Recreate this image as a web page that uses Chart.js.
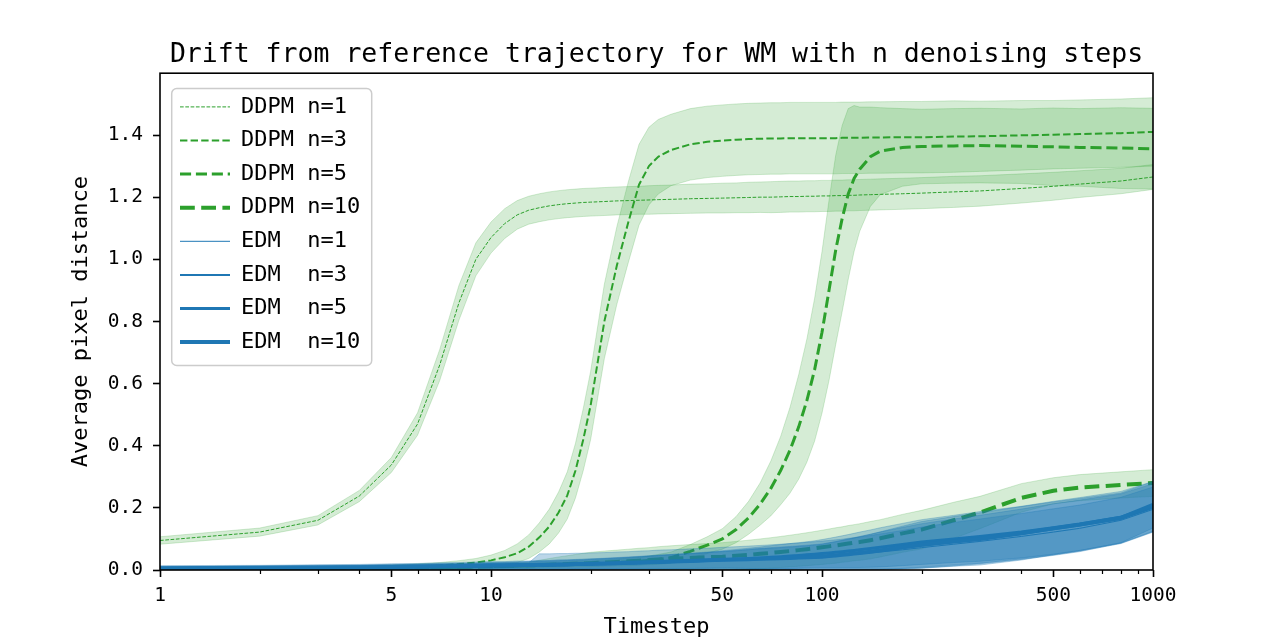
<!DOCTYPE html>
<html>
<head>
<meta charset="utf-8">
<script src="https://cdn.jsdelivr.net/npm/chart.js@4.4.1/dist/chart.umd.min.js"></script>
<style>
  html, body { margin: 0; padding: 0; background: #fff; }
  #wrap { width: 1280px; height: 640px; }
</style>
</head>
<body>
<div id="wrap"><canvas id="drift" width="1280" height="640"></canvas></div>
<script>
// timesteps (shared by every run)
var timesteps = [1, 2, 3, 4, 5, 6, 7, 8, 9, 10,
  11, 12, 13, 14, 15, 16, 17, 18, 19, 20,
  22, 24, 26, 28, 30, 32, 35, 40, 45, 50,
  55, 60, 65, 70, 75, 80, 85, 90, 95, 100,
  105, 110, 115, 120, 125, 130, 140, 150,
  175, 200, 250, 300, 400, 500, 600, 800, 1000];

var xTickLabels = [1, 5, 10, 50, 100, 500, 1000];
var xMinorTicks = [2, 3, 4, 6, 7, 8, 9, 20, 30, 40, 60, 70, 80, 90, 200, 300, 400, 600, 700, 800, 900];

// DDPM means / std
var ddpm1Mean = [0.095, 0.122, 0.160, 0.238, 0.338, 0.47, 0.66, 0.86, 1.0, 1.07,
  1.115, 1.143, 1.158, 1.166, 1.172, 1.176, 1.179, 1.181, 1.183, 1.184,
  1.186, 1.188, 1.189, 1.19, 1.191, 1.192, 1.193, 1.195, 1.196, 1.197,
  1.198, 1.199, 1.2, 1.2, 1.201, 1.202, 1.202, 1.203, 1.203, 1.204,
  1.204, 1.205, 1.205, 1.206, 1.206, 1.207, 1.208, 1.209,
  1.211, 1.213, 1.217, 1.22, 1.228, 1.235, 1.242, 1.252, 1.265];
var ddpm1Sd = [0.012, 0.013, 0.015, 0.018, 0.024, 0.036, 0.05, 0.056, 0.053, 0.05,
  0.048, 0.046, 0.045, 0.045, 0.045, 0.045, 0.045, 0.045, 0.045, 0.045,
  0.045, 0.045, 0.045, 0.045, 0.046, 0.046, 0.046, 0.047, 0.047, 0.048,
  0.048, 0.049, 0.049, 0.05, 0.05, 0.05, 0.05, 0.05, 0.05, 0.05,
  0.05, 0.05, 0.05, 0.05, 0.05, 0.05, 0.05, 0.05,
  0.05, 0.05, 0.05, 0.049, 0.047, 0.045, 0.043, 0.041, 0.04];

var ddpm3Mean = [0.004, 0.005, 0.006, 0.007, 0.009, 0.012, 0.015, 0.019, 0.024, 0.031,
  0.041, 0.054, 0.075, 0.105, 0.14, 0.185, 0.24, 0.32, 0.42, 0.53,
  0.8, 0.98, 1.12, 1.24, 1.3, 1.33, 1.352, 1.37, 1.378, 1.382,
  1.385, 1.387, 1.388, 1.389, 1.389, 1.39, 1.39, 1.39, 1.39, 1.39,
  1.39, 1.39, 1.391, 1.391, 1.391, 1.391, 1.392, 1.392,
  1.393, 1.393, 1.395, 1.396, 1.399, 1.401, 1.403, 1.406, 1.41];
var ddpm3Sd = [0.004, 0.005, 0.005, 0.006, 0.007, 0.008, 0.009, 0.011, 0.013, 0.017,
  0.022, 0.03, 0.038, 0.047, 0.056, 0.066, 0.076, 0.088, 0.1, 0.11,
  0.12, 0.125, 0.13, 0.13, 0.125, 0.12, 0.115, 0.115, 0.115, 0.115,
  0.115, 0.115, 0.115, 0.115, 0.115, 0.115, 0.115, 0.115, 0.115, 0.115,
  0.115, 0.115, 0.115, 0.115, 0.115, 0.115, 0.115, 0.115,
  0.115, 0.115, 0.115, 0.113, 0.112, 0.11, 0.11, 0.11, 0.11];

var ddpm5Mean = [0.003, 0.004, 0.005, 0.006, 0.006, 0.007, 0.008, 0.009, 0.01, 0.011,
  0.012, 0.013, 0.014, 0.015, 0.016, 0.017, 0.018, 0.019, 0.02, 0.02,
  0.022, 0.024, 0.026, 0.028, 0.031, 0.034, 0.04, 0.06, 0.08, 0.1,
  0.13, 0.168, 0.212, 0.262, 0.32, 0.385, 0.46, 0.545, 0.645, 0.765,
  0.9, 1.03, 1.13, 1.21, 1.26, 1.29, 1.33, 1.348,
  1.36, 1.363, 1.365, 1.366, 1.364, 1.362, 1.36, 1.358, 1.356];
var ddpm5Sd = [0.003, 0.003, 0.003, 0.004, 0.004, 0.004, 0.005, 0.005, 0.005, 0.006,
  0.006, 0.006, 0.007, 0.007, 0.007, 0.008, 0.008, 0.008, 0.009, 0.009,
  0.01, 0.011, 0.012, 0.013, 0.014, 0.016, 0.018, 0.022, 0.027, 0.033,
  0.042, 0.053, 0.068, 0.088, 0.11, 0.138, 0.168, 0.198, 0.23, 0.26,
  0.29, 0.305, 0.3, 0.275, 0.235, 0.2, 0.16, 0.14,
  0.125, 0.12, 0.12, 0.12, 0.12, 0.125, 0.125, 0.13, 0.13];

var ddpm10Mean = [0.003, 0.004, 0.005, 0.006, 0.007, 0.008, 0.009, 0.01, 0.011, 0.012,
  0.013, 0.014, 0.015, 0.016, 0.017, 0.018, 0.019, 0.02, 0.021, 0.022,
  0.024, 0.026, 0.028, 0.03, 0.032, 0.034, 0.036, 0.039, 0.041, 0.043,
  0.046, 0.049, 0.052, 0.055, 0.058, 0.061, 0.064, 0.067, 0.07, 0.073,
  0.076, 0.079, 0.082, 0.085, 0.088, 0.09, 0.096, 0.102,
  0.118, 0.13, 0.16, 0.185, 0.232, 0.255, 0.265, 0.274, 0.28];
var ddpm10Sd = [0.003, 0.003, 0.004, 0.004, 0.004, 0.005, 0.005, 0.005, 0.006, 0.006,
  0.007, 0.008, 0.01, 0.015, 0.02, 0.024, 0.027, 0.03, 0.033, 0.035,
  0.037, 0.038, 0.039, 0.04, 0.04, 0.041, 0.042, 0.043, 0.044, 0.045,
  0.046, 0.047, 0.048, 0.049, 0.05, 0.051, 0.052, 0.053, 0.054, 0.055,
  0.056, 0.057, 0.057, 0.058, 0.058, 0.059, 0.06, 0.06,
  0.061, 0.062, 0.058, 0.052, 0.046, 0.042, 0.042, 0.042, 0.043];

// EDM means / std
var edm1Mean = [0.004, 0.005, 0.006, 0.007, 0.008, 0.009, 0.01, 0.01, 0.011, 0.012,
  0.012, 0.013, 0.013, 0.02, 0.02, 0.021, 0.021, 0.022, 0.022, 0.023,
  0.024, 0.025, 0.026, 0.027, 0.028, 0.029, 0.03, 0.032, 0.033, 0.035,
  0.036, 0.037, 0.038, 0.039, 0.04, 0.041, 0.042, 0.043, 0.044, 0.045,
  0.046, 0.047, 0.048, 0.05, 0.051, 0.052, 0.055, 0.058,
  0.065, 0.072, 0.083, 0.092, 0.108, 0.122, 0.134, 0.16, 0.195];
var edm1Sd = [0.006, 0.006, 0.007, 0.007, 0.008, 0.008, 0.008, 0.009, 0.009, 0.009,
  0.01, 0.01, 0.01, 0.032, 0.032, 0.032, 0.032, 0.032, 0.032, 0.032,
  0.032, 0.033, 0.033, 0.034, 0.034, 0.035, 0.035, 0.036, 0.037, 0.038,
  0.039, 0.04, 0.041, 0.042, 0.043, 0.044, 0.045, 0.046, 0.047, 0.048,
  0.049, 0.05, 0.051, 0.052, 0.053, 0.054, 0.056, 0.058,
  0.062, 0.066, 0.07, 0.072, 0.074, 0.075, 0.075, 0.074, 0.072];

var edm3Mean = [0.004, 0.005, 0.006, 0.007, 0.008, 0.009, 0.01, 0.011, 0.011, 0.012,
  0.013, 0.013, 0.014, 0.015, 0.015, 0.016, 0.016, 0.017, 0.017, 0.018,
  0.019, 0.02, 0.021, 0.022, 0.023, 0.024, 0.025, 0.027, 0.029, 0.031,
  0.032, 0.034, 0.035, 0.036, 0.037, 0.038, 0.039, 0.04, 0.041, 0.042,
  0.044, 0.046, 0.048, 0.05, 0.052, 0.054, 0.058, 0.062,
  0.071, 0.079, 0.09, 0.099, 0.116, 0.131, 0.143, 0.165, 0.2];
var edm3Sd = [0.006, 0.007, 0.007, 0.008, 0.008, 0.009, 0.009, 0.01, 0.01, 0.011,
  0.011, 0.012, 0.012, 0.013, 0.013, 0.014, 0.014, 0.015, 0.015, 0.016,
  0.017, 0.018, 0.019, 0.02, 0.021, 0.022, 0.023, 0.025, 0.027, 0.029,
  0.031, 0.033, 0.035, 0.036, 0.037, 0.038, 0.039, 0.04, 0.041, 0.042,
  0.044, 0.046, 0.048, 0.05, 0.052, 0.054, 0.057, 0.06,
  0.066, 0.07, 0.074, 0.077, 0.08, 0.082, 0.082, 0.08, 0.078];

var edm5Mean = [0.005, 0.006, 0.007, 0.008, 0.009, 0.01, 0.011, 0.011, 0.012, 0.013,
  0.013, 0.014, 0.015, 0.015, 0.016, 0.016, 0.017, 0.018, 0.018, 0.019,
  0.02, 0.021, 0.022, 0.023, 0.024, 0.025, 0.027, 0.029, 0.031, 0.033,
  0.035, 0.037, 0.039, 0.041, 0.043, 0.045, 0.047, 0.049, 0.051, 0.053,
  0.055, 0.057, 0.059, 0.061, 0.063, 0.065, 0.069, 0.073,
  0.082, 0.09, 0.1, 0.108, 0.122, 0.136, 0.148, 0.17, 0.205];
var edm5Sd = [0.007, 0.007, 0.008, 0.008, 0.009, 0.009, 0.01, 0.01, 0.011, 0.011,
  0.012, 0.012, 0.013, 0.013, 0.014, 0.014, 0.015, 0.015, 0.016, 0.016,
  0.017, 0.018, 0.019, 0.02, 0.021, 0.022, 0.023, 0.025, 0.027, 0.029,
  0.031, 0.033, 0.035, 0.037, 0.039, 0.04, 0.041, 0.042, 0.043, 0.045,
  0.047, 0.049, 0.051, 0.053, 0.055, 0.057, 0.06, 0.063,
  0.068, 0.072, 0.076, 0.08, 0.083, 0.085, 0.085, 0.083, 0.08];

var edm10Mean = [0.006, 0.007, 0.008, 0.009, 0.01, 0.011, 0.012, 0.013, 0.014, 0.015,
  0.015, 0.016, 0.016, 0.017, 0.017, 0.018, 0.018, 0.019, 0.019, 0.02,
  0.021, 0.022, 0.023, 0.024, 0.025, 0.026, 0.027, 0.029, 0.031, 0.033,
  0.034, 0.035, 0.036, 0.037, 0.038, 0.039, 0.04, 0.041, 0.042, 0.043,
  0.045, 0.047, 0.049, 0.051, 0.053, 0.055, 0.059, 0.063,
  0.073, 0.081, 0.092, 0.1, 0.118, 0.134, 0.146, 0.168, 0.21];
var edm10Sd = [0.008, 0.008, 0.009, 0.009, 0.01, 0.01, 0.011, 0.011, 0.012, 0.012,
  0.012, 0.013, 0.013, 0.014, 0.014, 0.015, 0.015, 0.015, 0.016, 0.016,
  0.017, 0.018, 0.019, 0.02, 0.021, 0.022, 0.023, 0.024, 0.025, 0.026,
  0.028, 0.03, 0.032, 0.033, 0.034, 0.035, 0.036, 0.037, 0.038, 0.04,
  0.042, 0.044, 0.046, 0.048, 0.05, 0.052, 0.056, 0.06,
  0.068, 0.075, 0.08, 0.084, 0.086, 0.085, 0.084, 0.08, 0.075];

var GREEN = '#2ca02c', BLUE = '#1f77b4';
var GREEN_BAND = 'rgba(44,160,44,0.2)', BLUE_BAND = 'rgba(31,119,180,0.3)';
var MONO = "'DejaVu Sans Mono', monospace";

var runs = [
  {label: 'DDPM n=1',  mean: ddpm1Mean,  sd: ddpm1Sd,  color: GREEN, band: GREEN_BAND, width: 1, dashed: true},
  {label: 'DDPM n=3',  mean: ddpm3Mean,  sd: ddpm3Sd,  color: GREEN, band: GREEN_BAND, width: 2, dashed: true},
  {label: 'DDPM n=5',  mean: ddpm5Mean,  sd: ddpm5Sd,  color: GREEN, band: GREEN_BAND, width: 3, dashed: true},
  {label: 'DDPM n=10', mean: ddpm10Mean, sd: ddpm10Sd, color: GREEN, band: GREEN_BAND, width: 4, dashed: true},
  {label: 'EDM  n=1',  mean: edm1Mean,   sd: edm1Sd,   color: BLUE,  band: BLUE_BAND,  width: 1, dashed: false},
  {label: 'EDM  n=3',  mean: edm3Mean,   sd: edm3Sd,   color: BLUE,  band: BLUE_BAND,  width: 2, dashed: false},
  {label: 'EDM  n=5',  mean: edm5Mean,   sd: edm5Sd,   color: BLUE,  band: BLUE_BAND,  width: 3, dashed: false},
  {label: 'EDM  n=10', mean: edm10Mean,  sd: edm10Sd,  color: BLUE,  band: BLUE_BAND,  width: 4, dashed: false}
];

function points(vals) {
  return timesteps.map(function(t, i) { return {x: t, y: vals[i]}; });
}

// line, then lower edge, then upper edge filled down to the lower one
var datasets = [];
var seq = 0;
runs.forEach(function(r) {
  var lower = r.mean.map(function(m, i) { return m - r.sd[i]; });
  var upper = r.mean.map(function(m, i) { return m + r.sd[i]; });
  datasets.push({
    label: r.label, data: points(r.mean),
    borderColor: r.color, borderWidth: r.width,
    borderDash: r.dashed ? [3.7 * r.width, 1.6 * r.width] : [],
    pointRadius: 0, fill: false, order: 100 - seq++
  });
  var lowIdx = datasets.length;
  datasets.push({
    label: '', data: points(lower),
    borderColor: r.band, borderWidth: 1, pointRadius: 0, fill: false, order: 100 - seq++
  });
  datasets.push({
    label: '', data: points(upper),
    borderColor: r.band, borderWidth: 1, backgroundColor: r.band, pointRadius: 0,
    fill: {target: lowIdx, above: r.band, below: r.band}, order: 100 - seq++
  });
});

function roundRect(ctx, x, y, w, h, r) {
  ctx.beginPath();
  ctx.moveTo(x + r, y);
  ctx.lineTo(x + w - r, y);
  ctx.arcTo(x + w, y, x + w, y + r, r);
  ctx.lineTo(x + w, y + h - r);
  ctx.arcTo(x + w, y + h, x + w - r, y + h, r);
  ctx.lineTo(x + r, y + h);
  ctx.arcTo(x, y + h, x, y + h - r, r);
  ctx.lineTo(x, y + r);
  ctx.arcTo(x, y, x + r, y, r);
  ctx.closePath();
}

var framePlugin = {
  id: 'frame',
  afterLayout: function(chart) {
    // put the legend inside the axes, upper left, like matplotlib
    var lg = chart.legend, a = chart.chartArea;
    lg.left = a.left + 8.4; lg.right = a.right;
    lg.top = a.top + 11.1; lg.bottom = a.bottom;
  },
  beforeDraw: function(chart) {
    var a = chart.chartArea, ctx = chart.ctx;
    ctx.save();
    roundRect(ctx, a.left + 11.7, a.top + 15.3, 200, 277, 5);
    ctx.fillStyle = 'rgba(255,255,255,0.8)';
    ctx.fill();
    ctx.strokeStyle = '#cccccc';
    ctx.lineWidth = 1.5;
    ctx.stroke();
    ctx.restore();
  },
  afterDatasetsDraw: function(chart) {
    var a = chart.chartArea, ctx = chart.ctx, xs = chart.scales.x;
    ctx.save();
    ctx.strokeStyle = '#000';
    ctx.lineWidth = 1.2;
    ctx.beginPath();
    xMinorTicks.forEach(function(v) {
      var p = Math.round(xs.getPixelForValue(v)) + 0.5;
      ctx.moveTo(p, a.bottom);
      ctx.lineTo(p, a.bottom + 4);
    });
    ctx.stroke();
    ctx.lineWidth = 1.6;
    ctx.strokeRect(a.left, a.top, a.right - a.left, a.bottom - a.top);
    ctx.restore();
  }
};

var ctx = document.getElementById('drift');
var lineChart = new Chart(ctx, {
  type: 'line',
  data: { datasets: datasets },
  plugins: [framePlugin],
  options: {
    responsive: false,
    animation: false,
    devicePixelRatio: 1,
    layout: { padding: { left: 68, right: 127, top: 0, bottom: 0 } },
    plugins: {
      title: {
        display: true,
        fullSize: false,
        text: 'Drift from reference trajectory for WM with n denoising steps',
        color: '#000',
        font: { family: MONO, size: 26.5, weight: 'normal' },
        padding: { top: 39.5, bottom: 1.9 }
      },
      legend: {
        position: 'chartArea',
        align: 'start',
        onClick: null,
        labels: {
          usePointStyle: true,
          pointStyleWidth: 50,
          padding: 11.6,
          color: '#000',
          font: { family: MONO, size: 22 },
          generateLabels: function(chart) {
            var out = [];
            chart.data.datasets.forEach(function(d, i) {
              if (!d.label) return;
              out.push({
                text: d.label, datasetIndex: i, hidden: false,
                strokeStyle: d.borderColor, fillStyle: d.borderColor,
                lineWidth: d.borderWidth, lineDash: d.borderDash, lineCap: 'butt',
                pointStyle: 'line', fontColor: '#000'
              });
            });
            return out;
          }
        }
      },
      tooltip: { enabled: false }
    },
    scales: {
      x: {
        type: 'logarithmic',
        min: 1, max: 1000,
        afterBuildTicks: function(scale) {
          scale.ticks = xTickLabels.map(function(v) { return {value: v}; });
        },
        afterFit: function(scale) { scale.height = 70; },
        ticks: {
          autoSkip: false, maxRotation: 0, padding: 7, color: '#000',
          font: { family: MONO, size: 19.5 },
          callback: function(v) { return String(v); }
        },
        grid: { drawOnChartArea: false, tickLength: 7, tickWidth: 1.6, tickColor: '#000' },
        border: { display: false },
        title: { display: true, text: 'Timestep', color: '#000', font: { family: MONO, size: 22 }, padding: 0 }
      },
      y: {
        min: 0, max: 1.599,
        afterFit: function(scale) { scale.width = 92; },
        ticks: {
          stepSize: 0.2, includeBounds: false, padding: 10, color: '#000',
          font: { family: MONO, size: 19.5 },
          callback: function(v) { return v.toFixed(1); }
        },
        grid: { drawOnChartArea: false, tickLength: 7, tickWidth: 1.6, tickColor: '#000' },
        border: { display: false },
        title: { display: true, text: 'Average pixel distance', color: '#000', font: { family: MONO, size: 22 }, padding: 0 }
      }
    }
  }
});
</script>
</body>
</html>
